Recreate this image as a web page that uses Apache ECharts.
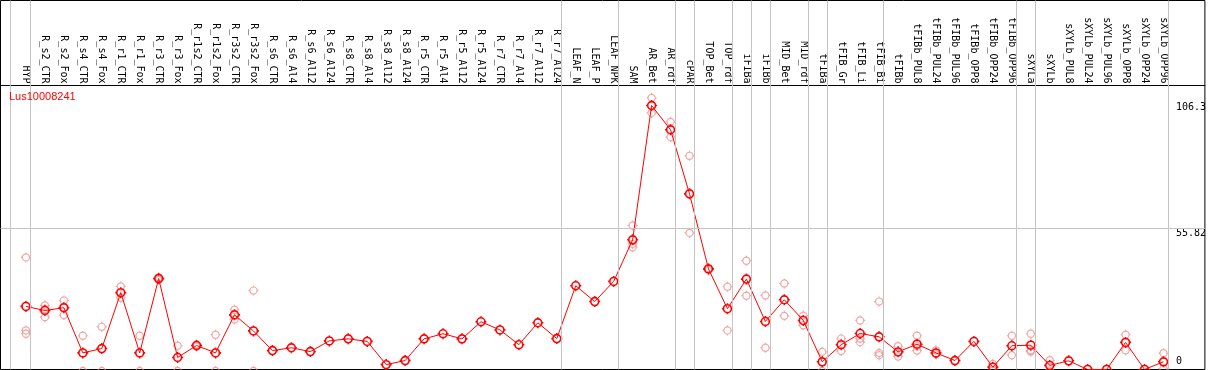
<!DOCTYPE html>
<html>
<head>
<meta charset="utf-8">
<script src="https://cdn.jsdelivr.net/npm/echarts@6/dist/echarts.min.js"></script>
<style>
  html, body { margin: 0; padding: 0; background: #fff; }
  #chart { width: 1209px; height: 370px; }
</style>
</head>
<body>
<div id="chart"></div>
<script>
// ---------------- data ----------------
const geneName = 'Lus10008241';

const categories = [
  'HYP',
  'R_s2_CTR','R_s2_Fox','R_s4_CTR','R_s4_Fox','R_r1_CTR','R_r1_Fox','R_r3_CTR','R_r3_Fox',
  'R_r1s2_CTR','R_r1s2_Fox','R_r3s2_CTR','R_r3s2_Fox',
  'R_s6_CTR','R_s6_Al4','R_s6_Al12','R_s6_Al24',
  'R_s8_CTR','R_s8_Al4','R_s8_Al12','R_s8_Al24',
  'R_r5_CTR','R_r5_Al4','R_r5_Al12','R_r5_Al24',
  'R_r7_CTR','R_r7_Al4','R_r7_Al12','R_r7_Al24',
  'LEAF_N','LEAF_P','LEAF_NPK',
  'SAM','AR_Bet','AR_rdf','cPAR','TOP_Bet','TOP_rdf','iFIBa','iFIBb','MID_Bet','MID_rdf',
  'tFIBa','tFIB_Gr','tFIB_Li','tFIB_Bi',
  'tFIBb','tFIBb_PUL8','tFIBb_PUL24','tFIBb_PUL96','tFIBb_OPP8','tFIBb_OPP24','tFIBb_OPP96',
  'sXYLa','sXYLb','sXYLb_PUL8','sXYLb_PUL24','sXYLb_PUL96','sXYLb_OPP8','sXYLb_OPP24','sXYLb_OPP96'
];

const means = [
  25.3,
  23.7, 24.8, 7.1, 8.8, 30.7, 7.1, 36.2, 5.3,
  10.0, 7.1, 22.0, 15.7,
  8.0, 9.1, 7.6, 11.8,
  12.6, 11.6, 2.5, 4.1,
  12.6, 14.6, 12.6, 19.3,
  16.1, 10.3, 18.9, 12.7,
  33.4, 27.2, 35.1,
  51.4, 104.0, 94.5, 69.4, 40.0, 24.4, 36.0, 19.4, 27.9, 19.8,
  3.6, 10.3, 14.7, 13.4,
  7.5, 10.5, 7.1, 4.1, 11.6, 1.5, 9.9,
  10.1, 2.2, 4.0, 0.6, 0.6, 11.2, 0.6, 3.6
];

const replicates = [
  [44.5, 15.9, 14.6],
  [25.7, 21.1, 24.3], [27.6, 21.9, 24.9], [13.8, 0], [17.3, 0], [33.1, 28.7], [13.8, 0], [36.7, 35.7], [9.9, 0],
  [10.4, 9.6], [14.2, 0], [24.0, 20.2], [31.5, 0],
  [], [], [], [],
  [], [], [], [],
  [], [], [], [],
  [], [], [], [],
  [], [], [],
  [57.0, 49.8, 48.5], [107.0, 101.1], [97.6, 91.7], [84.3, 54.1], [40.3, 39.7], [33.0, 15.9], [43.2, 29.5], [29.6, 9.1], [34.3, 21.6], [21.7, 17.9],
  [7.5, 0], [12.7, 7.8], [19.8, 12.7, 11.3], [27.2, 7.1, 6.2],
  [9.7, 5.7], [13.8, 8.0, 9.7], [8.1, 6.6], [], [], [2.8, 0.2], [13.8, 6.2],
  [14.6, 7.6, 8.1], [4.2, 0.2], [], [], [], [14.2, 8.1], [], [7.0, 0.9]
];

// y-axis tick labels
const maxLabel = 106.3;
const midLabel = 55.82;
const zeroLabel = 0;

// categories after which a group separator is drawn
const groupEnds = ['HYP','R_r7_Al24','LEAF_NPK','AR_rdf','cPAR','TOP_rdf','iFIBa','iFIBb',
                   'MID_rdf','tFIBa','tFIB_Bi','tFIBb_OPP96','sXYLa','sXYLb_OPP96'];

// ---------------- layout constants ----------------
const SEP_OFFSET = 0.2368;      // separator after a category, in category units
const LEAD_SEP = -0.816;        // separator before the first category
const X_MIN = -1.3421, X_MAX = 62.184;
const Y_MIN = 0.5876, Y_MAX = 145.14;

const K = 2.7614;
const markerPath = 'path://' +
  'M5,0 C5,' + K + ' ' + K + ',5 0,5 C-' + K + ',5 -5,' + K + ' -5,0 ' +
  'C-5,-' + K + ' -' + K + ',-5 0,-5 C' + K + ',-5 5,-' + K + ' 5,0 Z ' +
  'M0,-5 L0,-7 M0,5 L0,7 M-5,0 L-7,0 M5,0 L7,0';

const meanData = means.map((v, i) => [i, v]);
const repData = [];
replicates.forEach((arr, i) => arr.forEach(v => repData.push([i, v])));

const sepLines = [{ xAxis: LEAD_SEP }].concat(
  groupEnds.map(n => ({ xAxis: categories.indexOf(n) + SEP_OFFSET }))
);
sepLines.push({ yAxis: midLabel });

const monoFont = 'DejaVu Sans Mono';

function yAxisWith(value, min, vAlign, pad) {
  return {
    type: 'value',
    position: 'right',
    min: min, max: Y_MAX,
    axisLine: { show: false, onZero: false },
    axisTick: { show: false },
    splitLine: { show: false },
    axisLabel: {
      inside: true,
      margin: 29,
      align: 'left',
      verticalAlign: vAlign,
      padding: pad,
      customValues: [value],
      formatter: v => String(v),
      color: '#000',
      fontFamily: monoFont,
      fontSize: 10
    }
  };
}

const chart = echarts.init(document.getElementById('chart'), null, { renderer: 'canvas' });
chart.setOption({
  animation: false,
  backgroundColor: '#fff',
  title: {
    text: geneName,
    left: 9, top: 91, padding: 0,
    textStyle: { color: '#ff0000', fontSize: 11, fontWeight: 'normal', fontFamily: 'Liberation Sans' }
  },
  grid: {
    left: 0.5, right: 1.5, top: 0.5, bottom: 0.5,
    show: true, borderColor: '#000', borderWidth: 1, backgroundColor: 'transparent',
    containLabel: false
  },
  xAxis: {
    type: 'value',
    position: 'top',
    offset: -85,
    min: X_MIN, max: X_MAX,
    axisLine: { show: true, onZero: false, lineStyle: { color: '#000', width: 1 } },
    axisTick: { show: false },
    splitLine: { show: false },
    axisLabel: {
      rotate: 90,
      margin: 2,
      customValues: categories.map((c, i) => i),
      formatter: v => categories[Math.round(v)] || '',
      color: '#000',
      fontFamily: monoFont,
      fontSize: 10
    }
  },
  yAxis: [
    yAxisWith(midLabel, Y_MIN, 'top', [0, 0, 0, 0]),
    yAxisWith(maxLabel, Y_MIN, 'top', [3, 0, 0, 0]),
    yAxisWith(zeroLabel, 0, 'bottom', [0, 0, 3, 0])
  ],
  series: [
    {
      type: 'scatter',
      data: repData,
      clip: false,
      symbol: markerPath,
      symbolSize: 10,
      itemStyle: { color: 'none', borderColor: '#ee9090', borderWidth: 1.2 },
      silent: true,
      z: 2,
      markLine: {
        silent: true,
        symbol: ['none', 'none'],
        label: { show: false },
        lineStyle: { color: '#c4c4c4', width: 1, type: 'solid' },
        data: sepLines
      }
    },
    {
      type: 'line',
      data: meanData,
      clip: false,
      symbol: markerPath,
      symbolSize: 11,
      showAllSymbol: true,
      lineStyle: { color: '#ff0000', width: 1 },
      itemStyle: { color: 'none', borderColor: '#ff0000', borderWidth: 1.6 },
      silent: true,
      z: 3
    }
  ]
});
</script>
</body>
</html>
